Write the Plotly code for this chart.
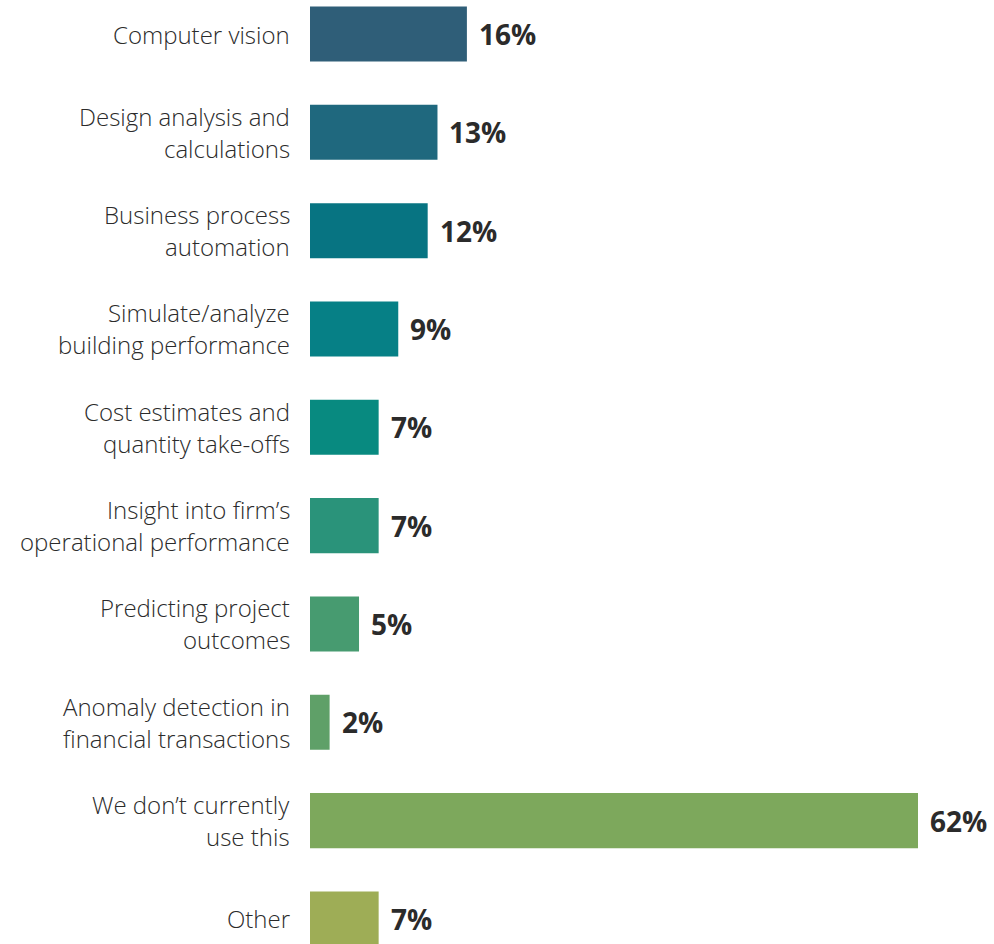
import plotly.graph_objects as go

categories = [
    "Computer vision",
    "Design analysis and<br>calculations",
    "Business process<br>automation",
    "Simulate/analyze<br>building performance",
    "Cost estimates and<br>quantity take-offs",
    "Insight into firm’s<br>operational performance",
    "Predicting project<br>outcomes",
    "Anomaly detection in<br>financial transactions",
    "We don’t currently<br>use this",
    "Other",
]
values = [16, 13, 12, 9, 7, 7, 5, 2, 62, 7]
colors = [
    "#2F5E78", "#1F687E", "#077482", "#068086", "#088A80",
    "#2A937A", "#479B70", "#5FA068", "#7DA85C", "#9EAD56",
]

positions = list(range(len(categories)))

fig = go.Figure(
    go.Bar(
        x=values,
        y=positions,
        orientation="h",
        marker=dict(color=colors, line=dict(width=0)),
        width=0.56,
        hoverinfo="skip",
    )
)

# category labels, one annotation per line for even 32px line spacing
label_font = dict(family="Open Sans", size=24, color="#2b2b2b", weight=300)
line_gap = 32
for pos, cat in zip(positions, categories):
    lines = cat.split("<br>")
    n = len(lines)
    for k, line in enumerate(lines):
        offset = (k - (n - 1) / 2) * line_gap
        fig.add_annotation(
            xref="paper", x=0, y=pos, text=line,
            showarrow=False, xanchor="right", yanchor="middle",
            xshift=-18, yshift=-offset, font=label_font,
        )

# value labels next to each bar
for pos, val in zip(positions, values):
    fig.add_annotation(
        x=val, y=pos, text=f"{val}%",
        showarrow=False, xanchor="left", yanchor="middle", xshift=10,
        font=dict(family="Open Sans", size=28, color="#2b2b2b", weight=700),
    )

fig.update_layout(
    width=994, height=944,
    margin=dict(l=310, r=0, t=0, b=0),
    paper_bgcolor="white", plot_bgcolor="white",
    showlegend=False,
    xaxis=dict(range=[0, 69.75], visible=False, fixedrange=True),
    yaxis=dict(
        range=[9.2546, -0.3458],
        showticklabels=False,
        showgrid=False, zeroline=False, showline=False, ticks="",
    ),
)

fig.write_html("out.html")
